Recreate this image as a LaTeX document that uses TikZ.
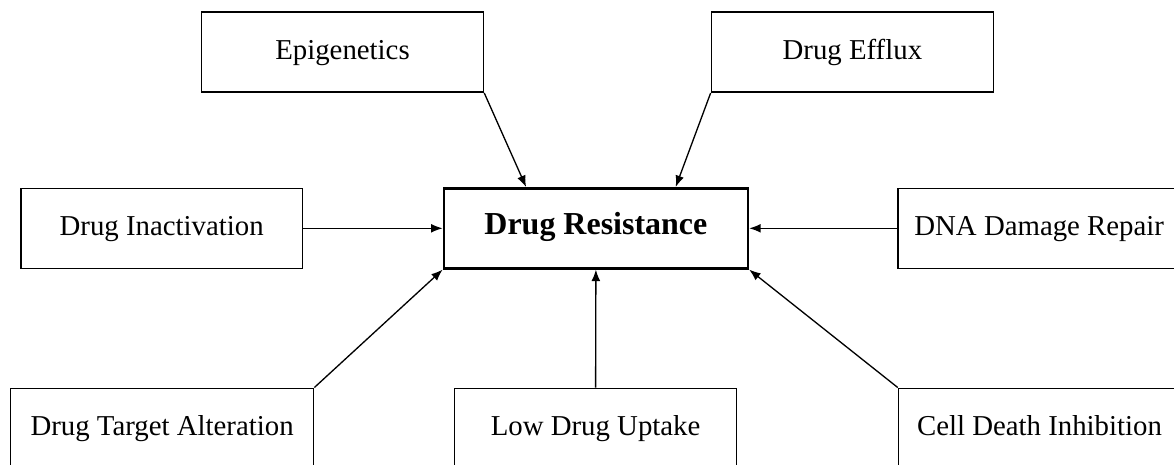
\documentclass[tikz,border=0pt]{standalone}
\usepackage{fontspec}
\setmainfont{Liberation Serif}
\usetikzlibrary{arrows.meta,positioning}
\begin{document}
\begin{tikzpicture}[x=0.02cm,y=-0.02cm,every node/.style={font=\fontsize{16.4}{20}\selectfont},
  cause/.style={draw,line width=.9pt,minimum width=5.64cm,minimum height=1.6cm,inner sep=0pt,text height=.86em,text depth=.06em},
  hub/.style={draw,line width=1.5pt,minimum width=6.08cm,minimum height=1.6cm,inner sep=0pt,text height=.8em,text depth=.07em,font=\fontsize{18.2}{22}\selectfont\bfseries},
  link/.style={line width=.75pt,-{Latex[length=6.5pt,width=5pt]}}]
\clip (0,0) rectangle (1174,464);
\node[hub] (res) at (595.9,228.3) {Drug Resistance};
\node[cause] (epi) at (342.5,52.2) {Epigenetics};
\node[cause] (eff) at (852.4,52.2) {Drug Efflux};
\node[cause] (inact) at (161.7,228.3) {Drug Inactivation};
\node[cause] (dna) at (1039.2,228.3) {DNA Damage Repair};
\node[cause,minimum width=6.06cm] (dta) at (162.1,428.3) {Drug Target Alteration};
\node[cause] (low) at (595.6,428.3) {Low Drug Uptake};
\node[cause] (cdi) at (1039.5,428.3) {Cell Death Inhibition};
\draw[link] (epi.south east) -- ([xshift=1.67cm]res.north west);
\draw[link] (eff.south west) -- ([xshift=-1.47cm]res.north east);
\draw[link] (inact.east) -- (res.west);
\draw[link] (dna.west) -- (res.east);
\draw[link] (dta.north east) -- (res.south west);
\draw[link] (low.north) -- (res.south);
\draw[link] (cdi.north west) -- (res.south east);
\end{tikzpicture}
\end{document}
